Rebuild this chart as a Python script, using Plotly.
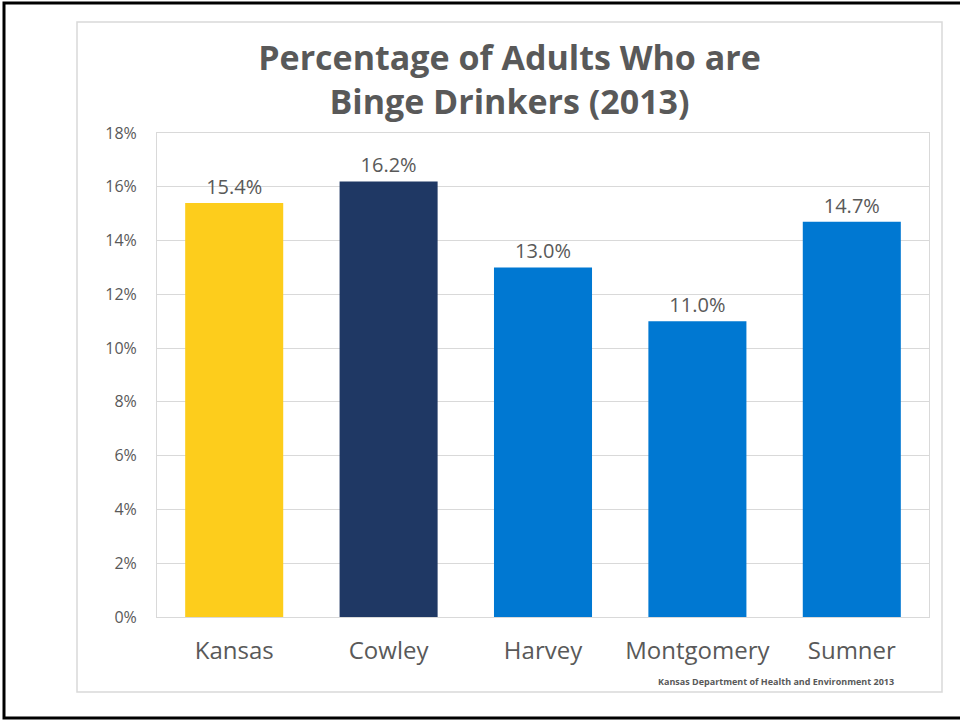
import plotly.graph_objects as go

categories = ["Kansas", "Cowley", "Harvey", "Montgomery", "Sumner"]
values = [15.4, 16.2, 13.0, 11.0, 14.7]
labels = ["15.4%", "16.2%", "13.0%", "11.0%", "14.7%"]
colors = ["#FDCD1C", "#1F3864", "#0078D2", "#0078D2", "#0078D2"]
y_ticks = [0, 2, 4, 6, 8, 10, 12, 14, 16, 18]
y_tick_text = [f"{v}%" for v in y_ticks]

title_text = "Percentage of Adults Who are<br>Binge Drinkers (2013)"
source_text = "Kansas Department of Health and Environment 2013"

W, H = 960, 721
L, R, T, B = 157, 929, 133, 617  # plot area pixel bounds
GRAY = "#595959"
FONT = "Open Sans"


def px(x):
    return (x - L) / (R - L)


def py(y):
    return (B - y) / (B - T)


fig = go.Figure(
    go.Bar(
        x=categories,
        y=values,
        marker=dict(color=colors, line=dict(width=0)),
        text=labels,
        textposition="outside",
        textfont=dict(size=20, color=GRAY, family=FONT),
        cliponaxis=False,
        width=0.635,
    )
)

fig.update_layout(
    width=W,
    height=H,
    margin=dict(l=L, r=W - R, t=T, b=H - B, pad=0),
    paper_bgcolor="white",
    plot_bgcolor="white",
    showlegend=False,
    title=dict(
        text=title_text,
        x=(77 + 942) / 2 / W,
        xanchor="center",
        y=1 - 70 / H,
        yanchor="middle",
        font=dict(size=34, color=GRAY, family=FONT, weight="bold"),
    ),
    xaxis=dict(
        showgrid=False,
        showline=True,
        linecolor="#D9D9D9",
        linewidth=1,
        mirror=True,
        ticks="outside",
        ticklen=12,
        tickcolor="rgba(0,0,0,0)",
        tickfont=dict(size=24, color=GRAY, family=FONT),
        fixedrange=True,
    ),
    yaxis=dict(
        range=[0, 18],
        tickvals=y_ticks,
        ticktext=y_tick_text,
        showgrid=True,
        gridcolor="#D9D9D9",
        gridwidth=1,
        zeroline=False,
        showline=True,
        linecolor="#D9D9D9",
        linewidth=1,
        mirror=True,
        ticks="outside",
        ticklen=16,
        tickcolor="rgba(0,0,0,0)",
        tickfont=dict(size=16, color=GRAY, family=FONT),
        fixedrange=True,
    ),
    shapes=[
        # outer black frame
        dict(type="rect", xref="paper", yref="paper",
             x0=px(4), x1=px(990), y0=py(718), y1=py(3),
             line=dict(color="black", width=3), layer="below"),
        # chart area gray border
        dict(type="rect", xref="paper", yref="paper",
             x0=px(77), x1=px(942), y0=py(692), y1=py(22),
             line=dict(color="#D9D9D9", width=1.5), layer="below"),
    ],
    annotations=[
        dict(text=source_text, xref="paper", yref="paper",
             x=px(896), y=py(681), xanchor="right", yanchor="middle",
             showarrow=False,
             font=dict(size=9, color=GRAY, family=FONT, weight="bold")),
    ],
)

fig.write_html(
    "out.html",
    config={"displayModeBar": False},
    post_script="document.body.style.margin='0';document.body.style.overflow='hidden';",
)
